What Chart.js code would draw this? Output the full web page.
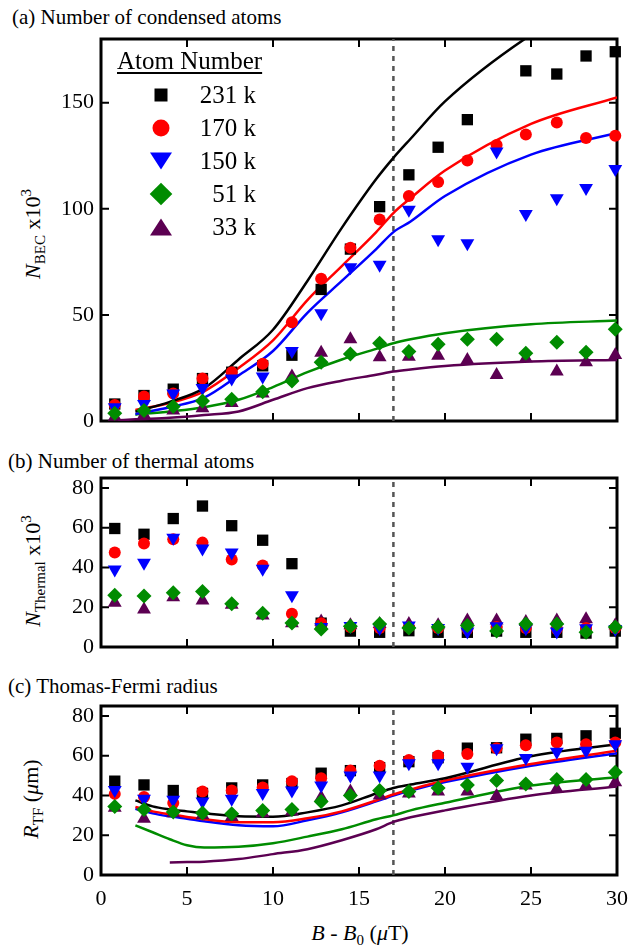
<!DOCTYPE html>
<html>
<head>
<meta charset="utf-8">
<script src="https://cdn.jsdelivr.net/npm/chart.js@4.4.1/dist/chart.umd.min.js"></script>
<style>
body { margin: 0; width: 633px; height: 948px; background: #fff; position: relative; overflow: hidden; font-family: 'Liberation Serif', 'DejaVu Serif', serif; color: #000 }
.panel { position: absolute; left: 0; width: 633px }
.txt { position: absolute; font-size: 21px; line-height: 1; white-space: nowrap }
.ylab { position: absolute; font-size: 22px; line-height: 1; white-space: nowrap; transform: translate(-50%, -50%) rotate(-90deg) }
.ylab sub, .xlab sub { font-size: 15px; vertical-align: -5px }
.ylab sup { font-size: 15px; vertical-align: 9px }
.legend { position: absolute; left: 117px; top: 48px; width: 152px; font-size: 25px }
.legend .head { text-decoration: underline; text-underline-offset: 3px; line-height: 1 }
.entry { position: absolute; left: 0; width: 139px; height: 24px }
.entry .lbl { position: absolute; right: 0; top: 0; line-height: 24px }
.mk { position: absolute; left: 44px; top: 12px; transform: translate(-50%, -50%) }
</style>
</head>
<body>
<div class="txt" style="left:12px;top:7px">(a) Number of condensed atoms</div>
<div class="txt" style="left:8px;top:451px">(b) Number of thermal atoms</div>
<div class="txt" style="left:8px;top:676px">(c) Thomas-Fermi radius</div>

<div class="ylab" style="left:33px;top:234px"><i>N</i><sub>BEC</sub> x10<sup>3</sup></div>
<div class="ylab" style="left:33px;top:571px"><i>N</i><sub>Thermal</sub> x10<sup>3</sup></div>
<div class="ylab" style="left:33px;top:799px"><i>R</i><sub>TF</sub> (<i>μ</i>m)</div>
<div class="txt xlab" style="left:360px;top:922px;transform:translateX(-50%);font-size:22px"><i>B</i> - <i>B</i><sub>0</sub> (<i>μ</i>T)</div>

<div class="panel" style="top:30px;height:400px"><canvas id="chartA" width="633" height="400"></canvas></div>
<div class="panel" style="top:470px;height:185px"><canvas id="chartB" width="633" height="185"></canvas></div>
<div class="panel" style="top:698px;height:250px"><canvas id="chartC" width="633" height="250"></canvas></div>

<div class="legend" id="legend"><div class="head">Atom Number</div></div>

<script>
// field offsets of the measured points (uT)
const bField = [0.8, 2.5, 4.2, 5.9, 7.6, 9.4, 11.1, 12.8, 14.5, 16.2, 17.9, 19.6, 21.3, 23.0, 24.7, 26.5, 28.2, 29.9]
const seriesNames = ['231 k', '170 k', '150 k', '51 k', '33 k']

// (a) condensed atoms, x10^3
const bec231 = [8, 12, 15, 20, 23, 26, 31, 62, 81, 101, 116, 129, 142, null, 165, 163.5, 172, 174]
const bec170 = [7.5, 11.5, 13, 20, 23, 27, 46.5, 67, 81.6, 95, 106, 112.6, 122.8, 130, 135, 140.7, 133.3, 134.4]
const bec150 = [6.5, 8, 13, 15.5, 20, 21, 33, 50.8, 72.5, 73.6, 99.5, 85.7, 83.8, 127, 97.5, 105, 109.8, 118.7]
const bec51 = [3.6, 5, 6.8, 9.4, 10.2, 13.8, 18.9, 27.7, 31.6, 36.6, 32.7, 36.2, 38.5, 38.5, 31.9, 37.1, 32.4, 43.2]
const bec33 = [2, 3, 5, 6, 8.5, 13, 21, 32.2, 38.5, 30, 30.3, 30.7, 28.8, 21.7, 29.6, 23.3, 27.7, 31.1]

// (a) model curves
const fitXa = [1, 2, 4, 6, 8, 10, 12, 14, 16, 17, 18, 20, 25, 30]
const fitBec231 = [null, 4.4, 9, 15.5, 29, 43, 66, 91, 114, 124, 133, 150.6, 182, 205]
const fitBec170 = [null, 5.2, 8.5, 14, 25, 38, 57, 73, 89, 98, 105, 118, 140, 152.5]
const fitBec150 = [null, 3.3, 6.5, 11, 21.5, 33, 51, 66, 81, 89, 94, 106, 125.5, 135.7]
const fitBec51 = [null, 3, 4.5, 6.5, 10, 16, 23, 29, 34, 36.6, 38.5, 41.4, 45.6, 47.3]
const fitBec33 = [0.3, 0.8, 1.5, 2.8, 4.5, 10, 15.5, 19, 21.8, 23.3, 24.3, 25.9, 28, 28.8]

// (b) thermal atoms, x10^3
const therm231 = [59.6, 56.7, 64.6, 70.9, 61, 53.7, 41.9, 12, 8, 7.4, 8.2, 7.4, 7.4, 8, 7.4, 7.4, 7, 8]
const therm170 = [47.5, 52, 54.2, 52.5, 44, 41, 16.7, 12, 10, 9.5, 10, 9.5, 9, 10, 9.5, 9, 9.5, 9.5]
const therm150 = [39, 42.4, 54.9, 49.5, 47.5, 39.4, 26, 10, 10.5, 9.5, 10.8, 9.6, 7.8, 10.4, 9.4, 7.8, 9.4, 9.1]
const therm51 = [26, 25.6, 27.3, 27.9, 21.7, 17, 12.1, 9.1, 10.4, 11.6, 9.6, 10.1, 10.8, 8, 11.6, 11.6, 7.4, 10]
const therm33 = [22.2, 18.9, 25, 23.4, 21.2, 15.8, 12, 12.8, 11, 11.6, 11.6, 11, 13.3, 13.3, 12.6, 13.3, 14, 11]

// (c) Thomas-Fermi radius, um
const rtf231 = [47.2, 45.3, 42.5, 41, 43.8, 45.3, 46, 51.2, 52.5, 54, 57, 59, 63.8, 64, 68.3, 68.7, 70, 71.3]
const rtf170 = [40.8, 39.2, 36.2, 42, 42.5, 44, 47.2, 48.7, 52.5, 55, 57.8, 60, 60.8, 63.7, 65.3, 66.7, 65.8, 66.7]
const rtf150 = [42.8, 38.3, 37.8, 37, 38.3, 41.3, 42.5, 45, 50, 50, 56.2, 56.2, 54.5, 63.7, 58.8, 62, 62.5, 65.8]
const rtf51 = [34.5, 33, 31.7, 31.2, 30.8, 32.5, 33, 37, 40, 42.5, 42, 43.7, 45.3, 47.5, 45.8, 48, 48, 51.7]
const rtf33 = [33.8, 28.3, 31, 30, 29.2, 31, 32, 39, 42, 40, 41, 42, 42, 39.7, 45, 43.3, 45, 46.7]

// (c) model curves
const fitXc = [2, 3, 4, 5, 6, 8, 10, 12, 14, 16, 17, 18, 20, 25, 30]
const fitRtf231 = [37.5, 34.5, 33, 32, 31, 29.5, 29.3, 31.5, 35, 41, 43.8, 45.5, 48.7, 59.7, 65.8]
const fitRtf170 = [34.2, 32, 30.5, 29.2, 28, 26.5, 26.5, 28.5, 32, 37.5, 40.5, 43, 47.5, 55.8, 62.5]
const fitRtf150 = [33.3, 31, 29.5, 28.3, 27, 25, 24.5, 27.5, 31.5, 37, 40, 42.5, 46.7, 55, 61.3]
const fitRtf51 = [25, 21.5, 18, 15, 13.8, 14.2, 16, 19.3, 23, 28, 30, 32.5, 36.3, 45, 49.2]
const fitRtf33 = [null, null, 6.3, 6.5, 6.7, 8, 10.5, 13, 17.5, 23, 26.7, 29, 32.5, 40, 44.5]

const resonanceB = 17
const xTicks = [0, 5, 10, 15, 20, 25, 30]

const styles = [
    { color: '#000000', point: 'rect', radius: 8, rotation: 0 },
    { color: '#ff0000', point: 'circle', radius: 6, rotation: 0 },
    { color: '#0000ff', point: 'triangle', radius: 8, rotation: 180 },
    { color: '#008c00', point: 'rectRot', radius: 7.5, rotation: 0 },
    { color: '#5c0052', point: 'triangle', radius: 8, rotation: 0 }
]
const serif = "'Liberation Serif', 'DejaVu Serif', serif"

const pts = (xs, ys) => xs.map((x, i) => ({ x: x, y: ys[i] })).filter(p => p.y !== null)

// frame with inward ticks on all four sides
const framePlugin = {
    id: 'frame',
    beforeDatasetsDraw(chart) {
        let { ctx, chartArea: a, scales } = chart
        ctx.save()
        ctx.strokeStyle = '#000'
        ctx.lineWidth = 2
        ctx.beginPath()
        xTicks.forEach(v => {
            let px = scales.x.getPixelForValue(v)
            ctx.moveTo(px, a.bottom); ctx.lineTo(px, a.bottom - 8)
            ctx.moveTo(px, a.top); ctx.lineTo(px, a.top + 8)
        })
        scales.y.ticks.forEach(t => {
            let py = scales.y.getPixelForValue(t.value)
            ctx.moveTo(a.left, py); ctx.lineTo(a.left + 8, py)
            ctx.moveTo(a.right, py); ctx.lineTo(a.right - 8, py)
        })
        ctx.stroke()
        ctx.lineWidth = 3
        ctx.strokeRect(a.left, a.top, a.right - a.left, a.bottom - a.top)
        ctx.restore()
    }
}

const makeChart = (id, pointSeries, fitX, fitSeries, yMax, showX, pad) => {
    let datasets = []
    pointSeries.forEach((ys, i) => {
        let s = styles[i]
        datasets.push({
            label: seriesNames[i],
            data: pts(bField, ys),
            pointStyle: s.point,
            pointRadius: s.radius,
            pointRotation: s.rotation,
            pointBackgroundColor: s.color,
            pointBorderColor: s.color,
            pointBorderWidth: 0,
            showLine: false,
            clip: false
        })
    })
    fitSeries.forEach((ys, i) => {
        if (!ys) return
        datasets.push({
            label: seriesNames[i] + ' fit',
            data: pts(fitX, ys),
            showLine: true,
            borderColor: styles[i].color,
            borderWidth: 2.5,
            pointRadius: 0,
            cubicInterpolationMode: 'monotone'
        })
    })
    datasets.push({
        label: 'resonance',
        data: [{ x: resonanceB, y: 0 }, { x: resonanceB, y: yMax }],
        showLine: true,
        borderColor: '#555555',
        borderWidth: 2.5,
        borderDash: [5, 5],
        pointRadius: 0
    })
    // green and blue on top, purple underneath
    let order = [3, 2, 1, 0, 4]
    datasets.forEach((d, i) => { d.order = i < 5 ? order.indexOf(i) : 10 + i })

    return new Chart(document.getElementById(id), {
        type: 'scatter',
        data: { datasets: datasets },
        options: {
            responsive: false,
            animation: false,
            devicePixelRatio: 1,
            layout: { padding: pad },
            plugins: { legend: { display: false }, tooltip: { enabled: false } },
            scales: {
                x: {
                    type: 'linear', min: 0, max: 30,
                    grid: { display: false, drawTicks: false },
                    border: { display: false },
                    ticks: {
                        display: showX, stepSize: 5, padding: 11, color: '#000',
                        font: { family: serif, size: 22 }
                    },
                    afterFit: s => {
                        s.height = showX ? 45 : 0
                        s.paddingLeft = 0
                        s.paddingRight = 0
                    }
                },
                y: {
                    min: 0, max: yMax,
                    grid: { display: false, drawTicks: false },
                    border: { display: false },
                    ticks: {
                        stepSize: yMax > 100 ? 50 : 20, includeBounds: false, padding: 7, color: '#000',
                        font: { family: serif, size: 22 }
                    },
                    afterFit: s => {
                        s.width = 101
                        s.paddingTop = 0
                        s.paddingBottom = 0
                    }
                }
            }
        },
        plugins: [framePlugin]
    })
}

makeChart('chartA', [bec231, bec170, bec150, bec51, bec33], fitXa,
    [fitBec231, fitBec170, fitBec150, fitBec51, fitBec33], 180, false, { top: 9, bottom: 9, left: 0, right: 16 })
makeChart('chartB', [therm231, therm170, therm150, therm51, therm33], fitXa,
    [], 85, false, { top: 8, bottom: 8, left: 0, right: 16 })
makeChart('chartC', [rtf231, rtf170, rtf150, rtf51, rtf33], fitXc,
    [fitRtf231, fitRtf170, fitRtf150, fitRtf51, fitRtf33], 85, true, { top: 8, bottom: 28, left: 0, right: 16 })

// legend box inside panel (a)
const markerCss = [
    'width:13px;height:13px;background:#000',
    'width:17px;height:17px;border-radius:50%;background:#ff0000',
    'width:0;height:0;border-left:11px solid transparent;border-right:11px solid transparent;border-top:17px solid #0000ff',
    'width:16px;height:16px;background:#008c00;transform:translate(-50%,-50%) rotate(45deg)',
    'width:0;height:0;border-left:11px solid transparent;border-right:11px solid transparent;border-bottom:17px solid #5c0052'
]
let legendBox = document.getElementById('legend')
seriesNames.forEach((name, i) => {
    let row = document.createElement('div')
    row.className = 'entry'
    row.style.top = (35 + i * 33) + 'px'
    row.innerHTML = `<span class="mk" style="${markerCss[i]}"></span><span class="lbl">${name}</span>`
    legendBox.appendChild(row)
})
</script>
</body>
</html>
